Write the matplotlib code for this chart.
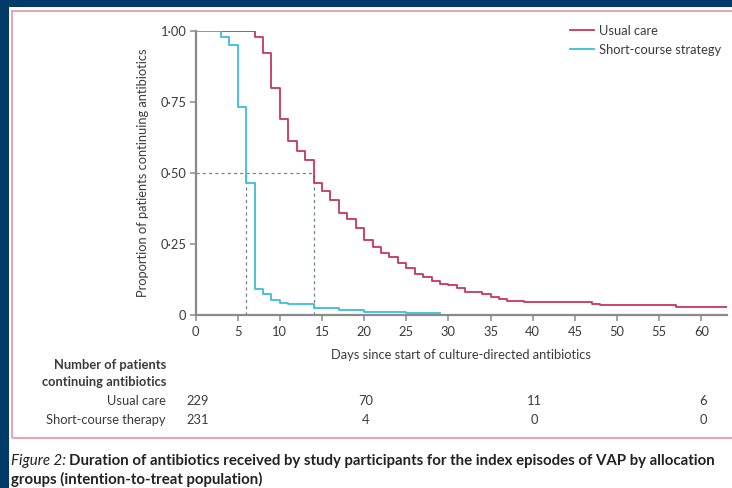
import matplotlib
matplotlib.use("Agg")
import matplotlib.pyplot as plt
from matplotlib.patches import Rectangle
from matplotlib.transforms import blended_transform_factory

plt.rcParams["font.family"] = ["Lato", "DejaVu Sans"]

# Kaplan-Meier style step curves (day, proportion still on antibiotics)
usual_days = [0, 7, 8, 9, 10, 11, 12, 13, 14, 15, 16, 17, 18, 19, 20, 21, 22, 23,
              24, 25, 26, 27, 28, 29, 30, 31, 32, 34, 35, 36, 37, 39, 44, 47, 48, 57, 63]
usual_vals = [1.0, 0.978, 0.921, 0.798, 0.689, 0.612, 0.577, 0.545, 0.463, 0.437,
              0.404, 0.359, 0.336, 0.304, 0.263, 0.237, 0.218, 0.204, 0.183, 0.163,
              0.143, 0.133, 0.119, 0.108, 0.104, 0.092, 0.080, 0.071, 0.063, 0.054,
              0.049, 0.045, 0.043, 0.037, 0.034, 0.025, 0.025]

short_days = [0, 3, 4, 5, 6, 7, 8, 9, 10, 11, 14, 17, 20, 25, 29]
short_vals = [1.0, 0.980, 0.951, 0.731, 0.463, 0.089, 0.071, 0.051, 0.042, 0.037,
              0.022, 0.016, 0.010, 0.004, 0.004]

median_usual = 14
median_short = 6

risk_days = [0, 20, 40, 60]
risk_usual = [229, 70, 11, 6]
risk_short = [231, 4, 0, 0]

x_ticks = list(range(0, 61, 5))
y_ticks = [0, 0.25, 0.5, 0.75, 1.0]
y_tick_labels = ["0", "0·25", "0·50", "0·75", "1·00"]

RED = "#c8365c"
BLUE = "#3cbcdc"
NAVY = "#003a68"
PINK = "#e9a5b8"
TEXT = "#3a3a3a"
AXIS = "#8a8a8a"
FS = 9.3

W, H = 732, 488
fig = plt.figure(figsize=(W / 100, H / 100), dpi=100, facecolor=NAVY)

# white page and pink frame
fig.patches.append(Rectangle((9 / W, 0), 1, 1 - 7 / H, transform=fig.transFigure,
                             facecolor="white", edgecolor="none", zorder=-2))
fig.patches.append(Rectangle((12 / W, 1 - 438 / H), 1, (438 - 11) / H,
                             transform=fig.transFigure, facecolor="none",
                             edgecolor=PINK, lw=1.5, zorder=-1))

ax = fig.add_axes([195.5 / W, 1 - 314.5 / H, (726.6 - 195.5) / W, (314.5 - 31) / H])
ax.set_facecolor("none")
ax.set_zorder(2)

ax.step(usual_days, usual_vals, where="post", color=RED, lw=1.3, label="Usual care",
        zorder=3)
ax.step(short_days, short_vals, where="post", color=BLUE, lw=1.3,
        label="Short-course strategy", zorder=3)

dash_kw = dict(color="#6f8590", lw=0.9, linestyle=(0, (2.5, 2.5)), zorder=2)
ax.plot([0, median_usual], [0.5, 0.5], **dash_kw)
ax.plot([median_short, median_short], [0, 0.5], **dash_kw)
ax.plot([median_usual, median_usual], [0, 0.5], **dash_kw)

ax.set_xlim(0, 63)
ax.set_ylim(0, 1)
ax.set_xticks(x_ticks)
ax.set_yticks(y_ticks)
ax.set_yticklabels(y_tick_labels)
for s in ["top", "right"]:
    ax.spines[s].set_visible(False)
for s in ["left", "bottom"]:
    ax.spines[s].set_color(AXIS)
    ax.spines[s].set_linewidth(1.6)
ax.tick_params(direction="out", length=4.5, width=1.1, color=AXIS, labelcolor=TEXT,
               labelsize=FS, pad=2)
ax.tick_params(axis="x", pad=4)

ax.set_ylabel("Proportion of patients continuing antibiotics", fontsize=FS,
              color=TEXT, labelpad=8)
ax.set_xlabel("Days since start of culture-directed antibiotics", fontsize=FS,
              color=TEXT, labelpad=8)

leg = ax.legend(loc="upper right", bbox_to_anchor=(1.0, 1.04), frameon=False,
                fontsize=FS, handlelength=1.9, handletextpad=0.4,
                labelspacing=0.55, borderaxespad=0)
for t in leg.get_texts():
    t.set_color(TEXT)

# number at risk table
tr = blended_transform_factory(ax.transData, fig.transFigure)
lab_x = 166 / W
fig.text(lab_x, 1 - 365 / H, "Number of patients", ha="right", va="center",
         fontsize=FS, fontweight="bold", color=TEXT)
fig.text(lab_x, 1 - 382 / H, "continuing antibiotics", ha="right", va="center",
         fontsize=FS, fontweight="bold", color=TEXT)
fig.text(lab_x, 1 - 401 / H, "Usual care", ha="right", va="center", fontsize=FS,
         color=TEXT)
fig.text(lab_x, 1 - 420 / H, "Short-course therapy", ha="right", va="center",
         fontsize=FS, color=TEXT)
for d, nu, ns in zip(risk_days, risk_usual, risk_short):
    ax.text(d + 0.2, 1 - 401 / H, str(nu), transform=tr, ha="center", va="center",
            fontsize=FS, color=TEXT)
    ax.text(d + 0.2, 1 - 420 / H, str(ns), transform=tr, ha="center", va="center",
            fontsize=FS, color=TEXT)

# caption
cap1 = fig.text(11 / W, 1 - 461 / H, "Figure 2:", ha="left", va="center",
                fontsize=10.8, style="italic", color="#222222")
fig.canvas.draw()
bb = cap1.get_window_extent()
fig.text((bb.x1 + 3) / W, 1 - 461 / H,
         "Duration of antibiotics received by study participants for the index "
         "episodes of VAP by allocation", ha="left", va="center", fontsize=10.8,
         fontweight="bold", color="#222222")
fig.text(11 / W, 1 - 479 / H, "groups (intention-to-treat population)", ha="left",
         va="center", fontsize=10.8, fontweight="bold", color="#222222")

fig.savefig("out.png", dpi=100, facecolor=NAVY)
